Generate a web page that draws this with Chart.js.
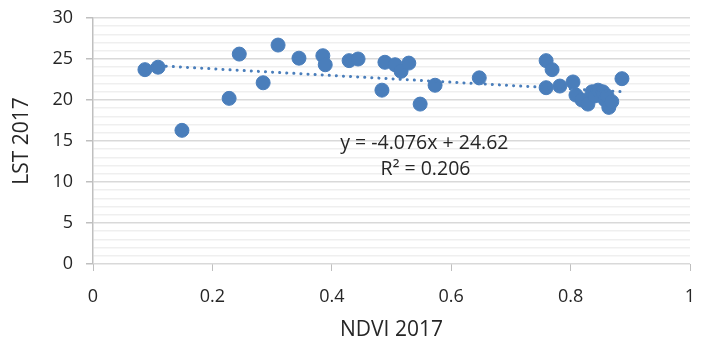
<!DOCTYPE html>
<html>
<head>
<meta charset="utf-8">
<script src="https://cdn.jsdelivr.net/npm/chart.js@4.4.1/dist/chart.umd.min.js"></script>
<style>
  html, body { margin: 0; padding: 0; background: #fff; }
  #wrap { width: 702px; height: 351px; }
</style>
</head>
<body>
<div id="wrap"><canvas id="lstChart"></canvas></div>
<script>
// NDVI 2017 vs LST 2017
const ndvi = [0.087, 0.109, 0.149, 0.228, 0.245, 0.285, 0.310, 0.345, 0.385, 0.389,
  0.429, 0.444, 0.484, 0.489, 0.506, 0.516, 0.529, 0.548, 0.573, 0.647,
  0.759, 0.769, 0.759, 0.782, 0.804, 0.809, 0.819, 0.829, 0.836, 0.841,
  0.846, 0.854, 0.858, 0.861, 0.864, 0.869, 0.886];
const lst = [23.7, 24.0, 16.3, 20.2, 25.6, 22.1, 26.7, 25.1, 25.4, 24.3,
  24.8, 25.0, 21.2, 24.6, 24.3, 23.5, 24.5, 19.5, 21.8, 22.7,
  24.8, 23.7, 21.5, 21.7, 22.2, 20.6, 20.0, 19.5, 21.0, 20.5,
  21.2, 21.0, 20.0, 20.5, 19.1, 19.8, 22.6];

// linear trendline, as printed on the chart
const slope = -4.076;
const intercept = 24.62;
const rSquared = 0.206;

const xTicks = [0, 0.2, 0.4, 0.6, 0.8, 1];
const yTicks = [0, 5, 10, 15, 20, 25, 30];

const points = ndvi.map((x, i) => ({ x: x, y: lst[i] }));
const xMin = Math.min(...ndvi), xMax = Math.max(...ndvi);
const trend = [xMin, xMax].map(x => ({ x: x, y: slope * x + intercept }));

const blue = '#4a7ebb';
const textColor = '#262626';
const font = "'Open Sans', 'Liberation Sans', sans-serif";

// trendline equation label
const eqLabel = {
  id: 'eqLabel',
  afterDatasetsDraw(chart) {
    const c = chart.ctx;
    const xs = chart.scales.x, ys = chart.scales.y;
    c.save();
    c.fillStyle = textColor;
    c.font = '19.5px ' + font;
    c.textAlign = 'center';
    c.textBaseline = 'middle';
    const sign = intercept >= 0 ? ' + ' : ' - ';
    c.fillText('y = ' + slope + 'x' + sign + Math.abs(intercept), xs.getPixelForValue(0.555), ys.getPixelForValue(14.75));
    c.fillText('R² = ' + rSquared, xs.getPixelForValue(0.557), ys.getPixelForValue(11.5));
    c.restore();
  }
};

new Chart(document.getElementById('lstChart').getContext('2d'), {
  type: 'scatter',
  data: {
    datasets: [{
      label: 'LST 2017',
      data: points,
      backgroundColor: blue,
      borderColor: blue,
      pointRadius: 7,
      pointHoverRadius: 7,
      order: 2
    }, {
      label: 'Linear',
      type: 'line',
      data: trend,
      borderColor: blue,
      borderWidth: 3,
      borderDash: [0.1, 7],
      borderCapStyle: 'round',
      pointRadius: 0,
      fill: false,
      order: 1
    }]
  },
  options: {
    responsive: true,
    maintainAspectRatio: false,
    animation: false,
    layout: { padding: { top: 18, right: 12, left: 0, bottom: 0 } },
    plugins: {
      legend: { display: false },
      tooltip: { enabled: false }
    },
    scales: {
      x: {
        type: 'linear',
        min: 0,
        max: 1,
        afterBuildTicks: axis => { axis.ticks = xTicks.map(v => ({ value: v })); },
        afterFit: axis => {
          axis.height = 87;
          axis.paddingLeft = 0;
          axis.paddingRight = 0;
        },
        ticks: {
          color: textColor,
          padding: 15,
          font: { family: font, size: 18 },
          callback: v => String(v)
        },
        grid: {
          drawOnChartArea: false,
          drawTicks: true,
          tickLength: 7,
          tickColor: '#bfbfbf'
        },
        border: { display: false },
        title: {
          display: true,
          text: 'NDVI 2017',
          color: textColor,
          font: { family: font, size: 21 },
          padding: { top: 0, bottom: 8 }
        }
      },
      y: {
        min: 0,
        max: 30,
        afterFit: axis => {
          axis.width = 93;
          axis.paddingTop = 0;
          axis.paddingBottom = 0;
        },
        ticks: {
          stepSize: 1,
          autoSkip: false,
          color: textColor,
          padding: 13,
          font: { family: font, size: 18 },
          callback: v => (yTicks.includes(v) ? String(v) : '')
        },
        grid: {
          color: ctx => (ctx.tick && ctx.tick.value % 5 === 0 ? '#d9d9d9' : '#efefef'),
          lineWidth: 1.5,
          tickLength: 7,
          tickColor: ctx => (ctx.tick && ctx.tick.value % 5 === 0 ? '#bfbfbf' : 'rgba(0,0,0,0)')
        },
        border: { display: true, color: '#bfbfbf', width: 1.5 },
        title: {
          display: true,
          text: 'LST 2017',
          color: textColor,
          font: { family: font, size: 21 },
          padding: { top: 9, bottom: 0 }
        }
      }
    }
  },
  plugins: [eqLabel]
});
</script>
</body>
</html>
